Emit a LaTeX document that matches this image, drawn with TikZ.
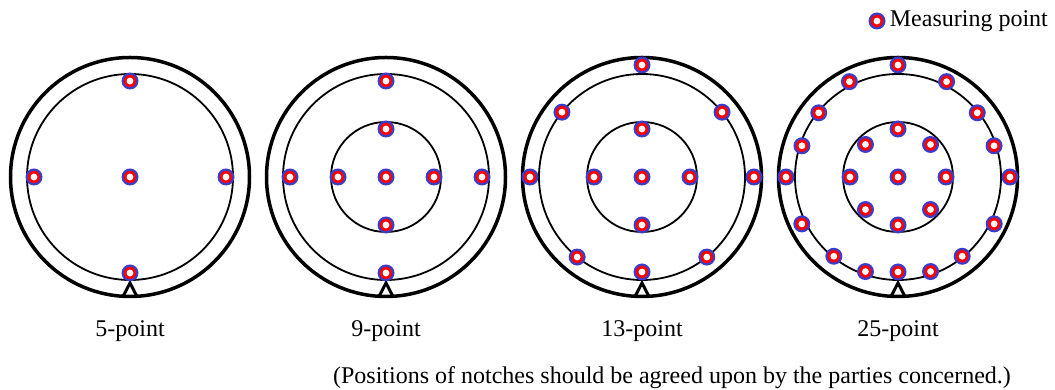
\documentclass[tikz,border=0pt]{standalone}
\usepackage{fontspec}
\setmainfont{Liberation Serif}
\usetikzlibrary{positioning,calc}
\definecolor{mblue}{RGB}{60,60,205}

\begin{document}
\begin{tikzpicture}[x=1pt, y=1pt,
    mpoint/.style={circle, minimum size=17pt, inner sep=0pt, fill=mblue,
      path picture={
        \fill[red] (path picture bounding box.center) circle (6.2pt);
        \fill[white] (path picture bounding box.center) circle (3.4pt);
      }},
    rim/.style={line width=3.5pt},
    ring/.style={line width=1.8pt},
    notch/.style={line width=3pt, fill=white, line join=miter},
    tag/.style={font=\fontsize{24}{27}\selectfont, inner sep=0pt, anchor=base}
]
\useasboundingbox (0,0) rectangle (1055,390);

\coordinate (w5) at (130,213);
\coordinate (w9) at (386,213);
\coordinate (w13) at (642,213);
\coordinate (w25) at (898,213);

% wafer outlines
\foreach \w in {w5,w9,w13,w25} {
  \draw[ring] (\w) circle (103);
  \draw[notch] ($(\w)+(-7,-119.5)$) -- ++(7,13.5) -- ++(7,-13.5);
  \draw[rim] (\w) circle (119.5);
}
\foreach \w in {w9,w13,w25}
  \draw[ring] (\w) circle (55);

% measuring points
\foreach \a/\r [count=\i] in {0/0, 90/96, 180/96, 0/96, 270/96}
  \node[mpoint] (w5-\i) at ($(w5)+(\a:\r)$) {};
\foreach \a/\r [count=\i] in {0/0, 90/48, 180/48, 0/48, 270/48, 90/96, 180/96, 0/96, 270/96}
  \node[mpoint] (w9-\i) at ($(w9)+(\a:\r)$) {};
\foreach \a/\r [count=\i] in {0/0, 90/48, 180/48, 0/48, 270/48, 90/112, 180/112, 0/112, 270/95,
    39/103, 141/103, -51/103, -129/103}
  \node[mpoint] (w13-\i) at ($(w13)+(\a:\r)$) {};
\foreach \a/\r [count=\i] in {0/0, 90/48, 180/48, 0/48, 270/48, 45/46, 135/46, 225/46, 315/46,
    90/112, 63/107, 117/107, 39/102, 141/102, 18/101, 162/101, 0/112, 180/112,
    -26/107, -154/107, -51/102, -129/102, -71/100, -109/100, 270/95}
  \node[mpoint] (w25-\i) at ($(w25)+(\a:\r)$) {};

% labels
\node[tag] (lab5) at (130,53) {5-point};
\node[tag] (lab9) at (386,53) {9-point};
\node[tag] (lab13) at (642,53) {13-point};
\node[tag] (lab25) at (898,53) {25-point};
\node[tag] (note) at (672,6) {(Positions of notches should be agreed upon by the parties concerned.)};

% legend
\node[mpoint] (key) at (877,369) {};
\node[tag, anchor=west, right=4pt of key] (keytext) {Measuring point};
\end{tikzpicture}
\end{document}
